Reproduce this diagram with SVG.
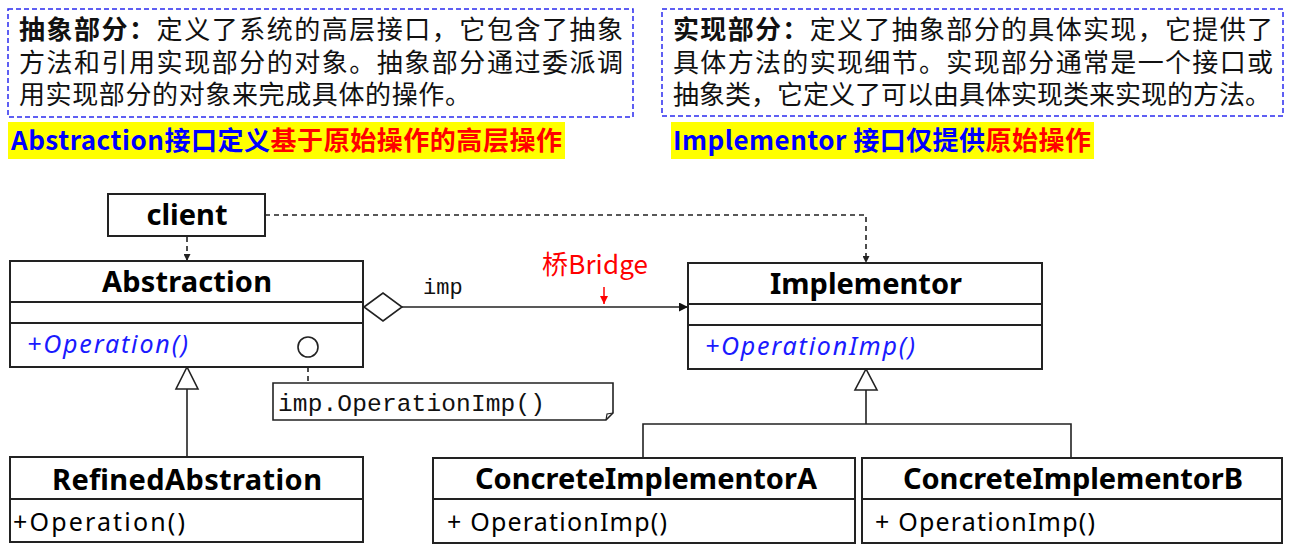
<svg xmlns="http://www.w3.org/2000/svg" width="1293" height="548" viewBox="0 0 1293 548">
<defs>
<style>
.desc{fill:none;stroke:#2b2bf0;stroke-width:1.5;stroke-dasharray:5,3}
.cn{font-family:"Noto Sans CJK SC","Noto Sans",sans-serif;font-size:26px;fill:#111}
.hl{font-family:"Noto Sans CJK SC","Noto Sans",sans-serif;font-size:26px;font-weight:bold}
.box{fill:#fff;stroke:#222;stroke-width:2}
.div{stroke:#222;stroke-width:2}
.name{font-family:"Noto Sans","Liberation Sans",sans-serif;font-weight:bold;font-size:29px;fill:#000;text-anchor:middle}
.op{font-family:"Noto Sans","Liberation Sans",sans-serif;font-size:25px;fill:#000}
.abs{font-style:italic;fill:#1a1aff}
.mono{font-family:"Liberation Mono","DejaVu Sans Mono",monospace;fill:#111}
.ln{fill:none;stroke:#222;stroke-width:1.6}
.dash{fill:none;stroke:#222;stroke-width:1.6;stroke-dasharray:5,4}
</style>
<marker id="ah" viewBox="0 0 10 10" refX="10" refY="5" markerWidth="7" markerHeight="7" markerUnits="userSpaceOnUse" orient="auto">
<path d="M0,0 L10,5 L0,10 z" fill="#222"/>
</marker>
<marker id="ahBig" viewBox="0 0 10 10" refX="10" refY="5" markerWidth="9" markerHeight="9" markerUnits="userSpaceOnUse" orient="auto">
<path d="M0,0 L10,5 L0,10 z" fill="#111"/>
</marker>
<marker id="ahRed" viewBox="0 0 10 10" refX="10" refY="5" markerWidth="8" markerHeight="8" markerUnits="userSpaceOnUse" orient="auto">
<path d="M0,0 L10,5 L0,10 z" fill="#f00"/>
</marker>
</defs>
<rect width="1293" height="548" fill="#fff"/>

<g id="desc-abstraction">
<rect class="desc" x="8" y="9" width="625" height="108"/>
<text class="cn" x="19" y="39" textLength="604"><tspan font-weight="bold">抽象部分：</tspan>定义了系统的高层接口，它包含了抽象</text>
<text class="cn" x="19" y="72" textLength="604">方法和引用实现部分的对象。抽象部分通过委派调</text>
<text class="cn" x="19" y="104" textLength="452">用实现部分的对象来完成具体的操作。</text>
</g>
<g id="desc-implementor">
<rect class="desc" x="662" y="9" width="621" height="107"/>
<text class="cn" x="673" y="39" textLength="600"><tspan font-weight="bold">实现部分：</tspan>定义了抽象部分的具体实现，它提供了</text>
<text class="cn" x="673" y="72" textLength="600">具体方法的实现细节。实现部分通常是一个接口或</text>
<text class="cn" x="673" y="104" textLength="598">抽象类，它定义了可以由具体实现类来实现的方法。</text>
</g>
<g id="highlight-abstraction">
<rect x="8" y="122" width="557" height="37" fill="#ffff00"/>
<text class="hl" x="11" y="150" textLength="551"><tspan fill="#0000ff">Abstraction接口定义</tspan><tspan fill="#ff0000">基于原始操作的高层操作</tspan></text>
</g>
<g id="highlight-implementor">
<rect x="671" y="122" width="423" height="37" fill="#ffff00"/>
<text class="hl" x="673" y="150" textLength="418"><tspan fill="#0000ff">Implementor 接口仅提供</tspan><tspan fill="#ff0000">原始操作</tspan></text>
</g>

<g id="connectors">
<line class="dash" x1="187" y1="237" x2="187" y2="261" marker-end="url(#ah)"/>
<path class="dash" d="M265,215 H866 V263" marker-end="url(#ah)"/>
<polygon points="364,307 383,293 402,307 383,321" fill="#fff" stroke="#222" stroke-width="1.6"/>
<line class="ln" x1="402" y1="307" x2="688" y2="307" marker-end="url(#ahBig)"/>
<text class="mono" x="423" y="294" font-size="22">imp</text>
<text x="542" y="274" font-family="'Noto Sans CJK SC','Noto Sans',sans-serif" font-size="26" fill="#ff0000" textLength="106">桥Bridge</text>
<line x1="604" y1="287" x2="604" y2="304" stroke="#f00" stroke-width="1.5" marker-end="url(#ahRed)"/>
<polygon points="187,367 176,389 198,389" fill="#fff" stroke="#222" stroke-width="1.6"/>
<line class="ln" x1="187" y1="389" x2="187" y2="457"/>
<polygon points="866,369 855,390 877,390" fill="#fff" stroke="#222" stroke-width="1.6"/>
<path class="ln" d="M866,390 V424 M643,458 V424 H1071 V458"/>
<line x1="308" y1="358" x2="308" y2="383" stroke="#222" stroke-width="1.6" stroke-dasharray="5,4"/>
</g>

<g id="client">
<rect class="box" x="108" y="194" width="157" height="42"/>
<text class="name" x="187" y="225" font-size="28">client</text>
</g>

<g id="abstraction">
<rect class="box" x="10" y="261" width="353" height="106"/>
<line class="div" x1="10" y1="302" x2="363" y2="302"/>
<line class="div" x1="10" y1="323" x2="363" y2="323"/>
<text class="name" x="187" y="292" textLength="170">Abstraction</text>
<text class="op abs" x="27" y="353" textLength="161">+Operation()</text>
<circle cx="308" cy="347" r="10" fill="#fff" stroke="#222" stroke-width="1.6"/>
</g>

<g id="note">
<path d="M273,383 H613 V413 L606,420 H273 Z" fill="#fff" stroke="#222" stroke-width="1.6"/>
<path d="M606,420 L607,414 L613,413" fill="none" stroke="#222" stroke-width="1.2"/>
<text class="mono" x="278" y="411" font-size="24.5" textLength="267">imp.OperationImp()</text>
</g>

<g id="implementor">
<rect class="box" x="688" y="263" width="354" height="106"/>
<line class="div" x1="688" y1="304" x2="1042" y2="304"/>
<line class="div" x1="688" y1="325" x2="1042" y2="325"/>
<text class="name" x="866" y="294" textLength="192">Implementor</text>
<text class="op abs" x="705" y="355" textLength="210">+OperationImp()</text>
</g>

<g id="refined-abstraction">
<rect class="box" x="10" y="457" width="353" height="85"/>
<line class="div" x1="10" y1="499" x2="363" y2="499"/>
<text class="name" x="187" y="490" textLength="270">RefinedAbstration</text>
<text class="op" x="13" y="531" textLength="172">+Operation()</text>
</g>

<g id="concrete-implementor-a">
<rect class="box" x="433" y="458" width="422" height="85"/>
<line class="div" x1="433" y1="499" x2="855" y2="499"/>
<text class="name" x="646" y="489" textLength="342">ConcreteImplementorA</text>
<text class="op" x="447" y="531" textLength="220">+ OperationImp()</text>
</g>

<g id="concrete-implementor-b">
<rect class="box" x="862" y="458" width="420" height="85"/>
<line class="div" x1="862" y1="499" x2="1282" y2="499"/>
<text class="name" x="1073" y="489" textLength="340">ConcreteImplementorB</text>
<text class="op" x="875" y="531" textLength="220">+ OperationImp()</text>
</g>
</svg>
